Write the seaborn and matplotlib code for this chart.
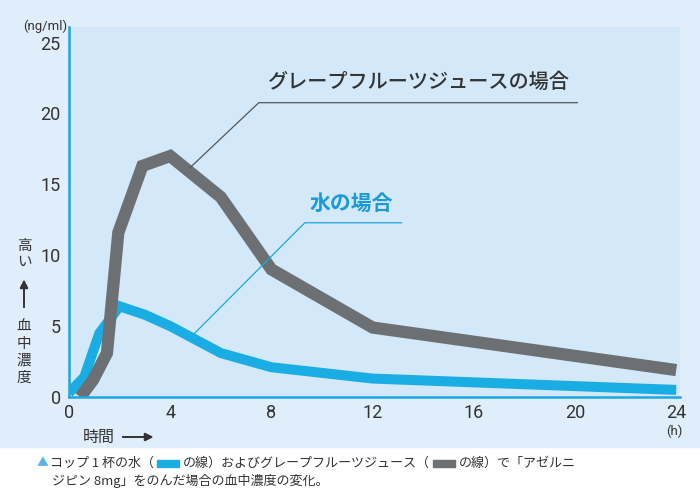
import matplotlib
matplotlib.use("Agg")
import matplotlib.pyplot as plt
import seaborn as sns
from matplotlib.patches import Rectangle

# data
hours_water = [0, 0.6, 1.2, 2, 3, 4, 6, 8, 12, 24]
conc_water = [0.3, 1.4, 4.5, 6.4, 5.8, 5.0, 3.1, 2.1, 1.3, 0.5]
hours_gf = [0.45, 0.95, 1.5, 1.95, 2.9, 4, 6, 8, 12, 24]
conc_gf = [0, 1.2, 3.1, 11.6, 16.3, 17.0, 14.1, 9.0, 4.9, 1.9]
x_ticks = [0, 4, 8, 12, 16, 20, 24]
y_ticks = [0, 5, 10, 15, 20, 25]

label_gf = "グレープフルーツジュースの場合"
label_water = "水の場合"
caption_line1 = ["コップ 1 杯の水（", "BLUE", "の線）およびグレープフルーツジュース（", "GRAY", "の線）で「アゼルニ"]
caption_line2 = "ジピン 8mg」をのんだ場合の血中濃度の変化。"

BLUE = "#19ade4"
GRAY = "#6c7073"
AXIS_BLUE = "#1ca8e0"
TEXT = "#333333"
JP = ["Noto Sans CJK JP", "DejaVu Sans"]
NUM = ["Liberation Sans Narrow", "Roboto", "DejaVu Sans"]

sns.set_style("white")
plt.rcParams["font.family"] = JP

fig = plt.figure(figsize=(7, 5), dpi=100)
fig.patch.set_facecolor("white")
fig.add_artist(Rectangle((0, 53 / 500), 1, 1, transform=fig.transFigure,
                         color="#dfeefa", zorder=-10))

ax = fig.add_axes([69 / 700, 103 / 500, 611 / 700, 370 / 500])
ax.set_facecolor("#d3e8f8")

sns.lineplot(x=hours_water, y=conc_water, ax=ax, color=BLUE, linewidth=7.2,
             solid_joinstyle="miter", solid_capstyle="butt")
sns.lineplot(x=hours_gf, y=conc_gf, ax=ax, color=GRAY, linewidth=8.8,
             solid_joinstyle="miter", solid_capstyle="butt")

ax.set_xlim(0, 24.15)
ax.set_ylim(0, 26.1)
ax.set_xticks(x_ticks)
ax.set_yticks(y_ticks)
ax.set_xticklabels([str(v) for v in x_ticks], family=NUM, fontsize=13, color=TEXT)
ax.set_yticklabels([str(v) for v in y_ticks], family=NUM, fontsize=13, color=TEXT)
ax.tick_params(axis="both", direction="in", length=6, width=1.3, color=AXIS_BLUE)
ax.tick_params(axis="x", pad=5)
ax.tick_params(axis="y", pad=6)
for side in ["top", "right"]:
    ax.spines[side].set_visible(False)
for side in ["left", "bottom"]:
    ax.spines[side].set_color(AXIS_BLUE)
    ax.spines[side].set_linewidth(1.8)
ax.set_xlabel("")
ax.set_ylabel("")

# series labels with leader lines
ax.plot([4.78, 7.5, 20.1], [16.17, 20.76, 20.76], color="#555555", lw=0.9)
ax.text(7.86, 22.2, label_gf, fontsize=14.5, color=TEXT, va="center", fontweight="medium")
ax.plot([4.9, 9.32, 13.15], [4.38, 12.29, 12.29], color=AXIS_BLUE, lw=0.9)
ax.text(9.51, 13.63, label_water, fontsize=15, color="#1a9ad8", va="center", fontweight="bold")

# units
fig.text(45 / 700, 1 - 26 / 500, "(ng/ml)", family=NUM, fontsize=9.5, color=TEXT,
         ha="center", va="center")
fig.text(674 / 700, 1 - 431 / 500, "(h)", family=NUM, fontsize=9.5, color=TEXT,
         ha="center", va="center")

# vertical y label
for ch, y in zip("高い", [246, 262]):
    fig.text(24 / 700, 1 - y / 500, ch, fontsize=10.5, color=TEXT, ha="center", va="center")
for ch, y in zip("血中濃度", [327, 344, 361, 378]):
    fig.text(24 / 700, 1 - y / 500, ch, fontsize=10.5, color=TEXT, ha="center", va="center")
fig.add_artist(plt.annotate("", xy=(24, 500 - 277), xytext=(24, 500 - 310),
                            xycoords="figure pixels",
                            arrowprops=dict(arrowstyle="-|>", color=TEXT, lw=1.2,
                                            mutation_scale=12)))

# x label
fig.text(99 / 700, 1 - 437 / 500, "時間", fontsize=11.5, color=TEXT, ha="center", va="center")
fig.add_artist(plt.annotate("", xy=(156, 500 - 437), xytext=(120, 500 - 437),
                            xycoords="figure pixels",
                            arrowprops=dict(arrowstyle="-|>", color=TEXT, lw=1.2,
                                            mutation_scale=12)))

# caption
fig.text(43 / 700, 1 - 463 / 500, "▲", fontsize=8.5, color="#5ab4e5", ha="center", va="center")
renderer = fig.canvas.get_renderer()
cx = 50
for part in caption_line1:
    if part in ("BLUE", "GRAY"):
        fig.add_artist(Rectangle(((cx + 3) / 700, (500 - 463 - 3.5) / 500), 22 / 700, 7 / 500,
                                 transform=fig.transFigure,
                                 color=BLUE if part == "BLUE" else GRAY))
        cx += 29
    else:
        t = fig.text(cx / 700, 1 - 463 / 500, part, fontsize=9.4, color=TEXT, va="center")
        cx = t.get_window_extent(renderer).x1
fig.text(52 / 700, 1 - 481 / 500, caption_line2, fontsize=9.4, color=TEXT, va="center")

fig.savefig("out.png", dpi=100)
